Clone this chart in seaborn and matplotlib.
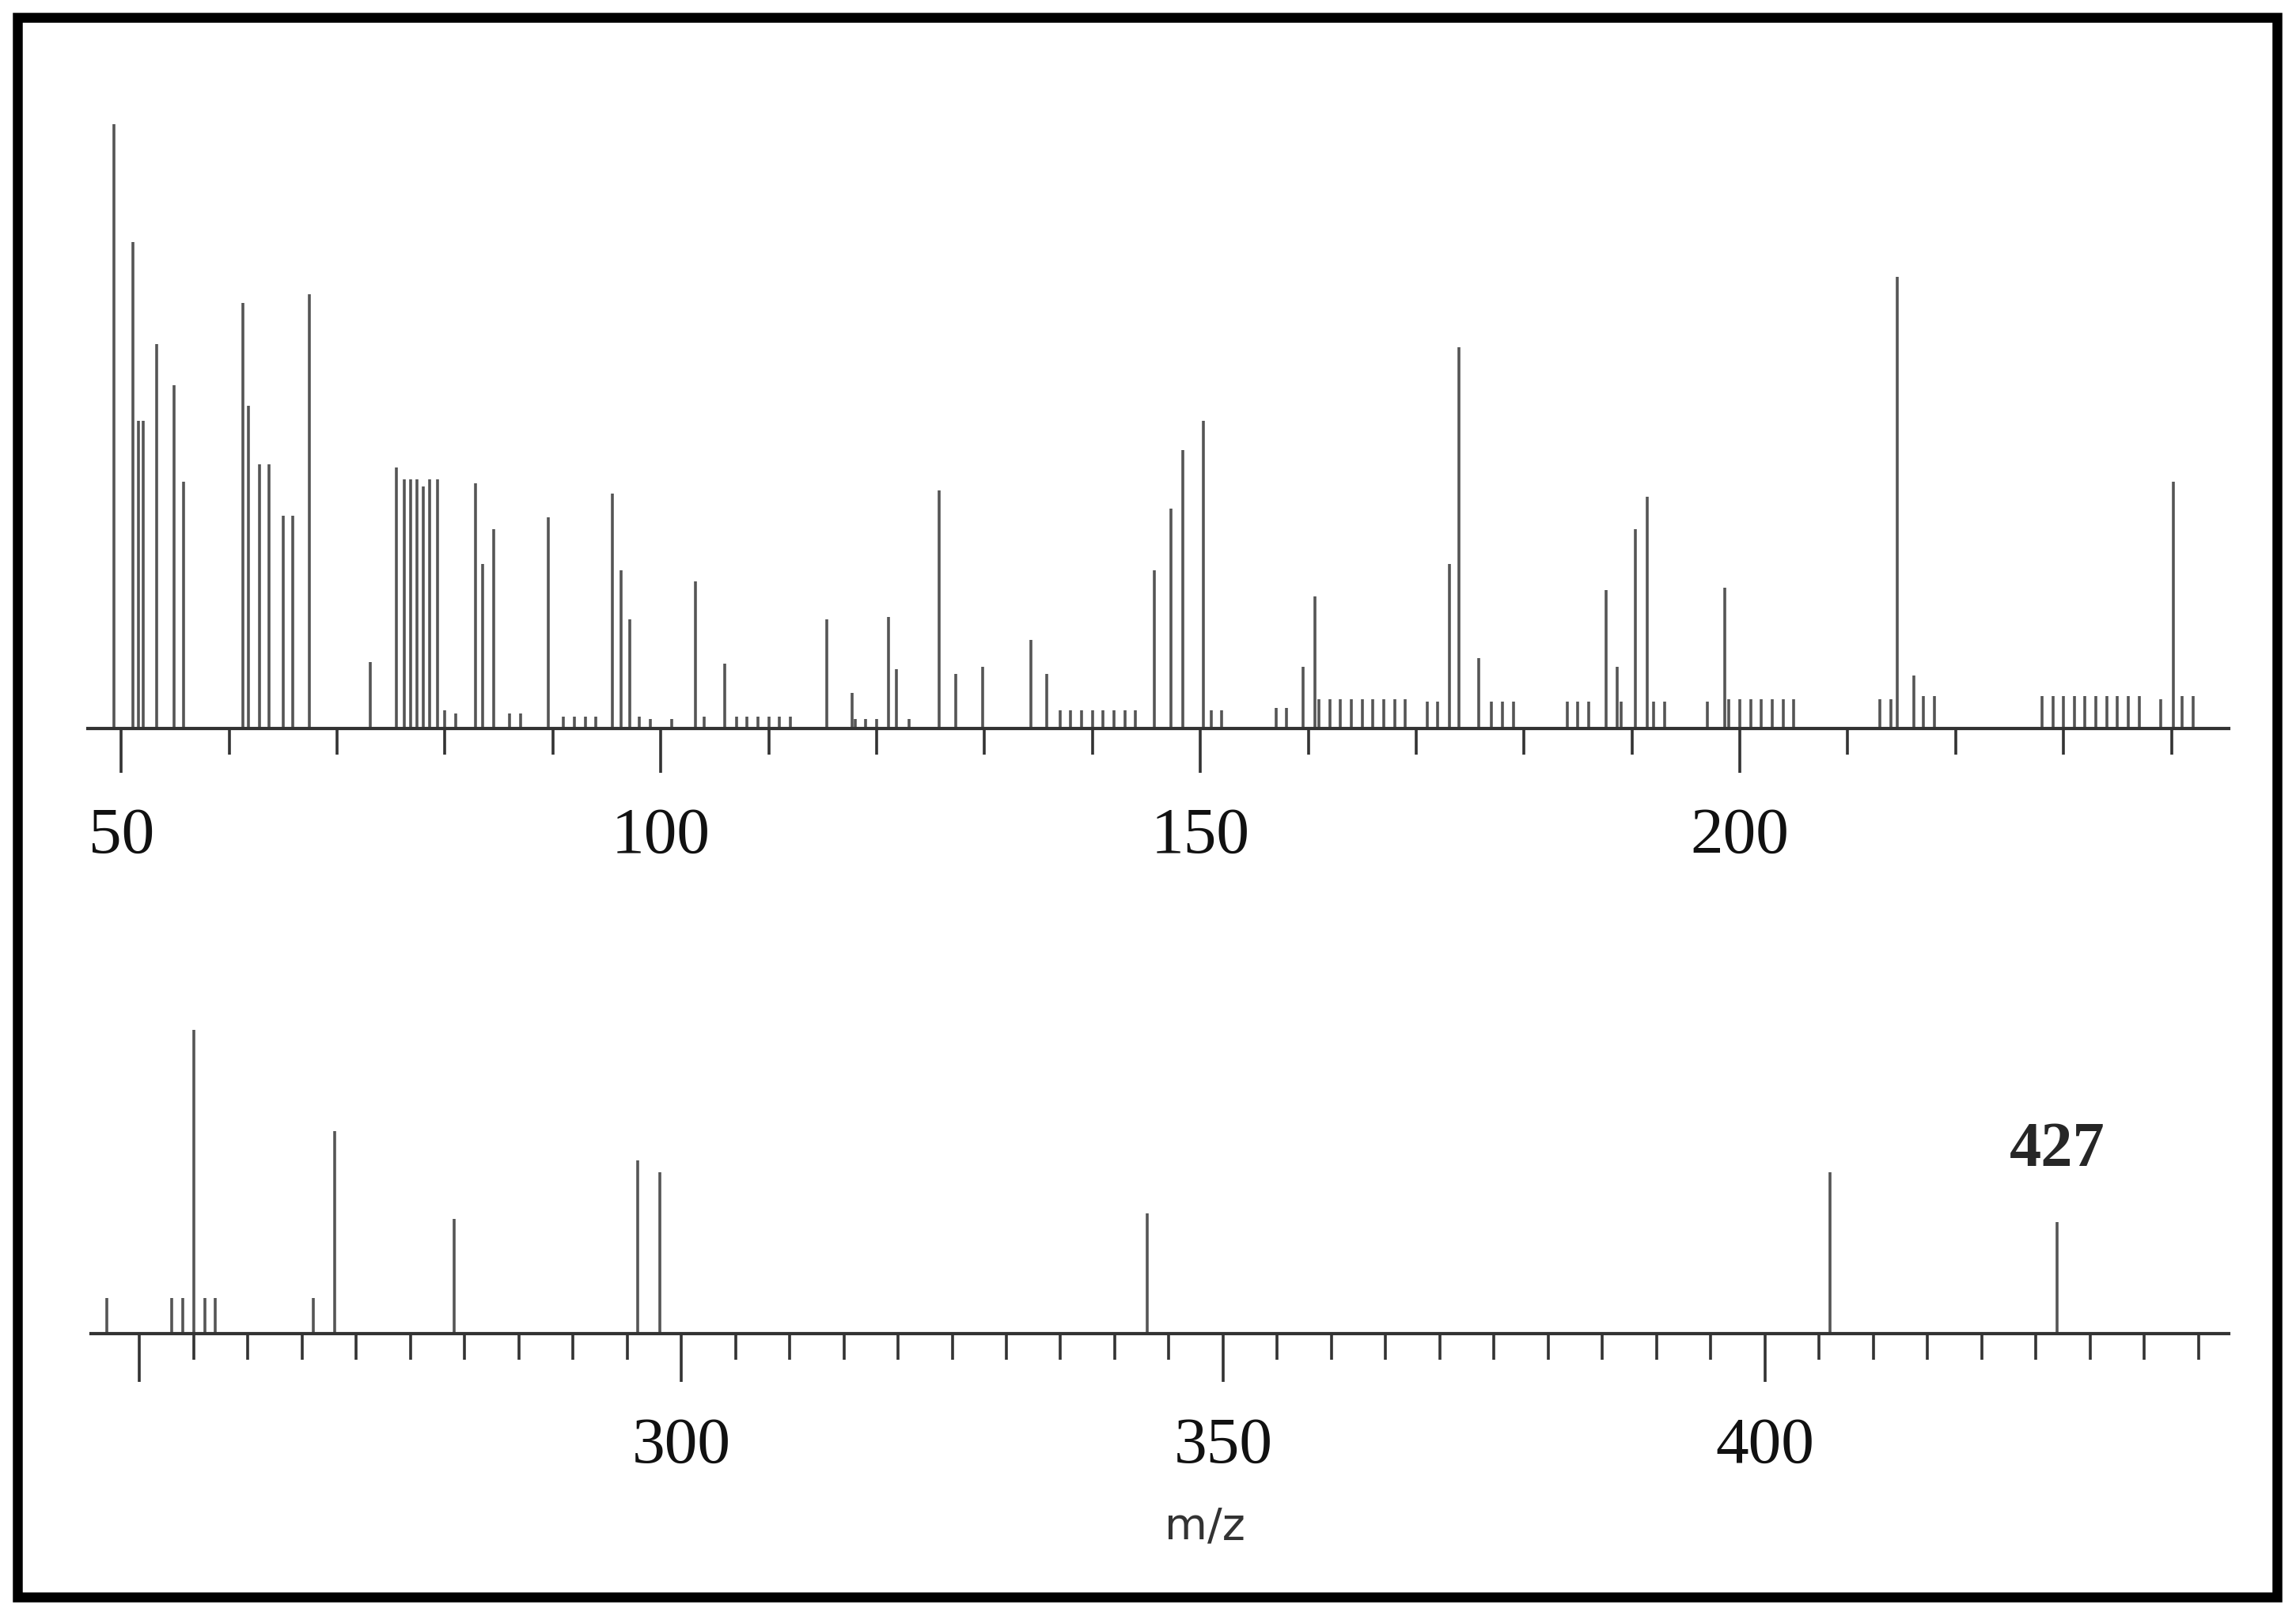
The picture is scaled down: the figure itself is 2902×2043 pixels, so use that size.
import matplotlib
matplotlib.use("Agg")
import matplotlib.pyplot as plt
import seaborn as sns
from matplotlib.patches import Rectangle

sns.set_style("white")
plt.rcParams['font.family'] = ['Liberation Serif', 'DejaVu Serif']

# top panel peaks (m/z, relative height)
top_mz = [49.3, 51.1, 51.6, 52.0, 53.3, 54.9, 55.8, 61.3, 61.8, 62.8, 63.7, 65.0, 65.9, 67.4,
          73.1, 75.5, 76.2, 76.8, 77.4, 78.0, 78.6, 79.3, 82.8, 83.5, 84.5, 89.6, 95.5, 96.3, 97.1,
          103.2, 105.9, 115.4, 117.7, 121.1, 121.8, 125.8, 127.3, 129.8, 134.3, 135.8,
          145.7, 147.3, 148.4, 150.3, 159.5, 160.6, 173.1, 174.0, 175.8,
          187.6, 188.6, 190.3, 191.4, 198.6, 214.6, 216.1, 240.2]
top_int = [412, 332, 210, 210, 262, 234, 168, 290, 220, 180, 180, 145, 145, 296,
           45, 178, 170, 170, 170, 165, 170, 170, 167, 112, 136, 144, 160, 108, 74,
           100, 44, 74, 24, 76, 40, 162, 37, 42, 60, 37,
           108, 150, 190, 210, 42, 90, 112, 260, 48,
           94, 42, 136, 158, 96, 308, 36, 168]
small_mz = [80, 81, 86, 87, 91, 92, 93, 94, 98, 99, 101, 104, 107, 108, 109, 110, 111, 112,
            118, 119, 120, 123, 137, 138, 139, 140, 141, 142, 143, 144, 151, 152, 157, 158,
            161, 162, 163, 164, 165, 166, 167, 168, 169, 171, 172, 177, 178, 179,
            184, 185, 186, 189, 192, 193, 197, 199, 200, 201, 202, 203, 204, 205,
            213, 214, 217, 218, 228, 229, 230, 231, 232, 233, 234, 235, 236, 237, 239, 241, 242]
small_int = [12, 10, 10, 10, 8, 8, 8, 8, 8, 6, 6, 8, 8, 8, 8, 8, 8, 8,
             6, 6, 6, 6, 12, 12, 12, 12, 12, 12, 12, 12, 12, 12, 14, 14,
             20, 20, 20, 20, 20, 20, 20, 20, 20, 18, 18, 18, 18, 18,
             18, 18, 18, 18, 18, 18, 18, 20, 20, 20, 20, 20, 20, 20,
             20, 20, 22, 22, 22, 22, 22, 22, 22, 22, 22, 22, 22, 22, 20, 22, 22]

# bottom panel peaks
bot_mz = [247, 253, 254, 255, 256, 257, 266, 268, 279, 296, 298, 343, 406, 427]
bot_int = [24, 24, 24, 207, 24, 24, 24, 138, 78, 118, 110, 82, 110, 76]

W, H = 1568, 1103
fig = plt.figure(figsize=(14.51, 10.215), dpi=200)
fig.add_artist(Rectangle((12 / W, 1 - 1090 / H), 1543 / W, 1078 / H, transform=fig.transFigure,
                         fill=False, lw=4.5, ec='black'))

lc = '#555555'
ax1 = fig.add_axes([60 / W, 1 - 497 / H, 1462 / W, 430 / H])
ax1.vlines(top_mz, 0, top_int, color=lc, lw=1.3)
ax1.vlines(small_mz, 0, small_int, color=lc, lw=1.3)
ax1.set_xlim(46.9, 245.3)
ax1.set_ylim(0, 430)
ax1.set_xticks([50, 100, 150, 200])
ax1.set_xticks(range(60, 250, 10), minor=True)

ax2 = fig.add_axes([62 / W, 1 - 910 / H, 1460 / W, 230 / H])
ax2.vlines(bot_mz, 0, bot_int, color=lc, lw=1.3)
ax2.set_xlim(245.5, 442.8)
ax2.set_ylim(0, 230)
ax2.set_xticks([250, 300, 350, 400])
ax2.set_xticklabels(['', '300', '350', '400'])
ax2.set_xticks(range(255, 445, 5), minor=True)

for ax in (ax1, ax2):
    sns.despine(ax=ax, left=True, top=True, right=True)
    ax.spines['bottom'].set_color('#333333')
    ax.spines['bottom'].set_linewidth(1.5)
    ax.set_yticks([])
    ax.tick_params(axis='x', which='major', direction='out', length=20, width=1.3,
                   color='#333333', labelsize=30, pad=16, bottom=True, labelcolor='#111111')
    ax.tick_params(axis='x', which='minor', direction='out', length=12, width=1.3,
                   color='#333333', bottom=True)
    ax.set_facecolor('none')

ax2.tick_params(axis='x', which='major', length=22)
ax2.text(427, 105, '427', ha='center', va='bottom', fontsize=29, fontweight='bold',
         transform=ax2.transData)
fig.text(823 / W, 1 - 1042 / H, 'm/z', ha='center', va='center', fontsize=20,
         family=['DejaVu Sans'], color='#333333')

fig.savefig('out.png', dpi=200)
